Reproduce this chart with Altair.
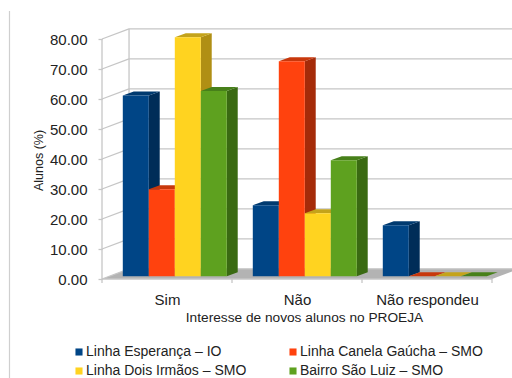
import altair as alt
import pandas as pd

# Survey results
categories = ["Sim", "Não", "Não respondeu"]
series = ["Linha Esperança – IO", "Linha Canela Gaúcha – SMO",
          "Linha Dois Irmãos – SMO", "Bairro São Luiz – SMO"]
esperanca = [60.3, 23.7, 17.0]
canela = [29.0, 71.7, 0.0]
dois_irmaos = [79.7, 21.0, 0.0]
sao_luiz = [61.8, 38.7, 0.0]

front_colors = ["#004586", "#ff420e", "#ffd320", "#5ea11f"]
side_colors = ["#002d58", "#a52b09", "#b08f14", "#3a6a12"]
top_colors = ["#003a70", "#c8380c", "#c4a31a", "#47801a"]

y_ticks = [0, 10, 20, 30, 40, 50, 60, 70, 80]
x_ticks = [0, 5, 10, 15]

# Oblique projection, in axis units (one x unit is one bar width)
WALL_DX, WALL_DY = 1.04, 3.4
BAR_DX, BAR_DY = 0.42, 1.33
BAR_BASE = 0.9
BAR_START = 0.8
GROUP = 5
GRID = "#c6c6c6"
FONT = "Liberation Sans"
INK = "#222222"

values = [esperanca, canela, dois_irmaos, sao_luiz]
front, side, top = [], [], []
for g, cat in enumerate(categories):
    for s, name in enumerate(series):
        v = values[s][g]
        x0 = GROUP * g + BAR_START + s
        x1 = x0 + 1
        y1 = v + BAR_BASE
        bar = f"{g}-{s}"
        front.append(dict(serie=name, x=x0, x2=x1, y=BAR_BASE, y2=y1))
        side.append(dict(bar=bar, shade=side_colors[s], x=x1, y=BAR_BASE, y2=y1))
        side.append(dict(bar=bar, shade=side_colors[s], x=x1 + BAR_DX,
                         y=BAR_BASE + BAR_DY, y2=y1 + BAR_DY))
        top.append(dict(bar=bar, shade=top_colors[s], y=y1, x=x0, x2=x1))
        top.append(dict(bar=bar, shade=top_colors[s], y=y1 + BAR_DY,
                        x=x0 + BAR_DX, x2=x1 + BAR_DX))

x_scale = alt.Scale(domain=[0, 410 / 26], nice=False, zero=False)
y_scale = alt.Scale(domain=[0, 84], nice=False, zero=False)

# The same axis definitions go on every layer so that Vega-Lite merges them into one
x_axis = alt.Axis(values=[2.5, 7.5, 12.5], grid=False, domain=False, ticks=False,
                  labelExpr="datum.value < 5 ? 'Sim' : datum.value < 10 ? 'Não' : 'Não respondeu'",
                  labelFont=FONT, labelFontSize=15, labelColor=INK, labelPadding=13,
                  labelFlush=False, labelOverlap=False,
                  titleFont=FONT, titleFontSize=13.7, titleFontWeight="normal", titleColor=INK,
                  titleX=202, titleY=38, titleBaseline="middle")
y_axis = alt.Axis(values=y_ticks, format=".2f", grid=False, domain=False, tickSize=4,
                  tickColor=GRID, tickWidth=1.3, labelPadding=11,
                  labelFont=FONT, labelFontSize=15, labelColor=INK,
                  titleFont=FONT, titleFontSize=12.5, titleFontWeight="normal", titleColor=INK,
                  titleX=-64, titleY=133, titleBaseline="middle")
X_TITLE = "Interesse de novos alunos no PROEJA"
Y_TITLE = "Alunos (%)"


def X(field="x", **kw):
    return alt.X(f"{field}:Q", scale=x_scale, axis=x_axis, title=X_TITLE, **kw)


def Y(field="y", **kw):
    return alt.Y(f"{field}:Q", scale=y_scale, axis=y_axis, title=Y_TITLE, **kw)


# Chart frame, left edge
frame = alt.Chart(pd.DataFrame({"a": [0]})).mark_rule(color="#cfcfcf", strokeWidth=1.2).encode(
    x=alt.value(-92.5), y=alt.value(-16), y2=alt.value(352))

grid_df = pd.DataFrame({"v": y_ticks})
grid_df["b"] = grid_df.v + WALL_DY
grid_df["x0"] = 0.0
grid_df["x1"] = WALL_DX
grid_df["x2"] = 15 + WALL_DX

back_grid = alt.Chart(grid_df).mark_rule(color=GRID, strokeWidth=1.3, clip=True).encode(
    x=X("x1"), x2="x2:Q", y=Y("b"))
wall_grid = alt.Chart(grid_df).mark_rule(color=GRID, strokeWidth=1.3).encode(
    x=X("x0"), x2="x1:Q", y=Y("v"), y2="b:Q")

edges_df = pd.DataFrame([
    dict(x=0, x2=0, y=0, y2=80),
    dict(x=WALL_DX, x2=WALL_DX, y=WALL_DY, y2=80 + WALL_DY),
    dict(x=0, x2=15, y=0, y2=0),
])
edges = alt.Chart(edges_df).mark_rule(color=GRID, strokeWidth=1.3).encode(
    x=X(), x2="x2:Q", y=Y(), y2="y2:Q")

ticks_df = pd.DataFrame({"x": x_ticks, "y": [0] * 4, "y2": [-1.3] * 4})
x_marks = alt.Chart(ticks_df).mark_rule(color=GRID, strokeWidth=1.3).encode(
    x=X(), y=Y(), y2="y2:Q")

floor_df = pd.DataFrame([
    dict(y=0, x=0, x2=15),
    dict(y=WALL_DY, x=WALL_DX, x2=15 + WALL_DX),
])
floor = alt.Chart(floor_df).mark_area(orient="horizontal", color="#b3b3b3", clip=True).encode(
    y=Y(), x=X(stack=None), x2="x2:Q")

sides = alt.Chart(pd.DataFrame(side)).mark_area(orient="vertical").encode(
    x=X(), y=Y(stack=None), y2="y2:Q",
    detail="bar:N", fill=alt.Fill("shade:N", scale=None))

tops = alt.Chart(pd.DataFrame(top)).mark_area(orient="horizontal").encode(
    y=Y(), x=X(stack=None), x2="x2:Q",
    detail="bar:N", fill=alt.Fill("shade:N", scale=None))

fronts = alt.Chart(pd.DataFrame(front)).mark_bar().encode(
    x=X(), x2="x2:Q", y=Y(), y2="y2:Q",
    color=alt.Color("serie:N",
                    scale=alt.Scale(domain=series, range=front_colors),
                    sort=series,
                    legend=alt.Legend(title=None, orient="none", legendX=-30, legendY=318,
                                      direction="horizontal", columns=2,
                                      columnPadding=39, rowPadding=5,
                                      symbolType="square", symbolSize=50, symbolStrokeWidth=0,
                                      labelOffset=0,
                                      labelFont=FONT, labelFontSize=14, labelColor=INK,
                                      labelLimit=300)))

chart = alt.layer(frame, floor, back_grid, wall_grid, edges, x_marks, sides, tops, fronts).properties(
    width=410, height=252,
    padding={"left": 102, "top": 27, "right": 0, "bottom": 99},
    autosize=alt.AutoSizeParams(type="none"),
    background="#ffffff",
).configure_view(stroke=None)

chart.save("out.html", embed_options={"renderer": "svg", "actions": False})
